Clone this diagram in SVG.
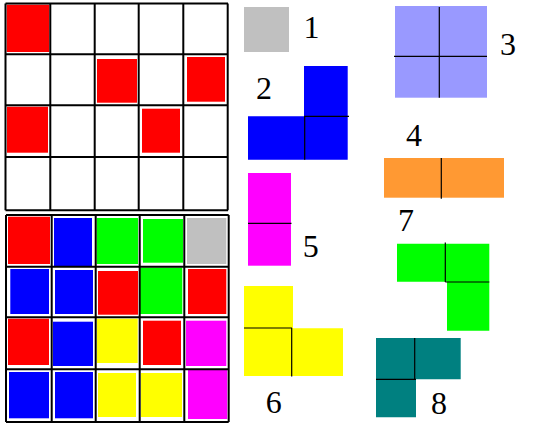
<svg xmlns="http://www.w3.org/2000/svg" width="535" height="431" viewBox="0 0 535 431">
<style>
.r{fill:#ff0000}.b{fill:#0000ff}.g{fill:#00ff00}.y{fill:#ffff00}.m{fill:#ff00ff}.gr{fill:#c0c0c0}
.grid{stroke:#000;stroke-width:2;fill:none}
.sep{stroke:#000;stroke-width:1.2;fill:none}
.lbl{font-family:"Liberation Serif","DejaVu Serif",serif;font-size:32px;fill:#000;text-anchor:middle}
</style>
<rect width="535" height="431" fill="#fff"/>
<g id="board-top">
<rect class="r" x="6.7" y="4.7" width="42.6" height="47.3"/>
<rect class="r" x="97" y="59" width="40" height="43.7"/>
<rect class="r" x="187" y="57" width="38" height="44.7"/>
<rect class="r" x="7" y="106.7" width="41" height="46"/>
<rect class="r" x="142" y="108.7" width="38" height="44"/>
<path class="grid" d="M5.5 3.5H228M5.5 54.3H228M5.5 105.3H228M5.5 157H228M5.5 210.3H228M5.5 3.5V210.3M50.3 3.5V210.3M94.7 3.5V210.3M138.7 3.5V210.3M183.3 3.5V210.3M227.7 3.5V210.3"/>
</g>
<g id="board-bottom">
<rect class="r" x="8" y="216.7" width="42" height="47.3"/>
<rect class="b" x="54" y="218" width="38" height="48"/>
<rect class="g" x="96.7" y="218" width="41.3" height="46"/>
<rect class="g" x="143" y="219" width="40" height="43.7"/>
<rect class="gr" x="187" y="218" width="39.3" height="46"/>
<rect class="b" x="10.3" y="269" width="38.7" height="45"/>
<rect class="b" x="55" y="270" width="38" height="44"/>
<rect class="r" x="98" y="271" width="40" height="43.7"/>
<rect class="g" x="140" y="267.7" width="42.3" height="46.3"/>
<rect class="r" x="188" y="269" width="38.3" height="45"/>
<rect class="r" x="8" y="318.7" width="41" height="46.3"/>
<rect class="b" x="53" y="321.7" width="40" height="44.3"/>
<rect class="y" x="97" y="318.7" width="40.7" height="44.3"/>
<rect class="r" x="143" y="320.7" width="38" height="44.3"/>
<rect class="m" x="186" y="320.7" width="40.3" height="45.3"/>
<rect class="b" x="9" y="372" width="40" height="46.3"/>
<rect class="b" x="55" y="372" width="38" height="46.3"/>
<rect class="y" x="98" y="373" width="38" height="44"/>
<rect class="y" x="141" y="373" width="41" height="44"/>
<rect class="m" x="188" y="370" width="39.3" height="49"/>
<path class="grid" d="M6 215H228.7M6 266.7H228.7M6 317.3H228.7M6 369.3H228.7M6 422H228.7M6 215V422M51.7 215V422M95.7 215V422M139.7 215V422M184.3 215V422M228.7 215V422"/>
</g>
<g id="piece-1">
<rect class="gr" x="244" y="7" width="45" height="45"/>
<text class="lbl" x="311.5" y="38">1</text>
</g>
<g id="piece-2">
<path class="b" d="M304 66H347.7V159.7H248V116.3H304Z"/>
<path class="sep" d="M304 116.3H349M304.7 116.3V159.7"/>
<text class="lbl" x="264" y="99">2</text>
</g>
<g id="piece-3">
<rect x="395" y="6" width="92" height="91.7" fill="#9999ff"/>
<path class="sep" d="M439.3 7V97.7M394 56.3H487"/>
<text class="lbl" x="508" y="54.5">3</text>
</g>
<g id="piece-4">
<rect x="384" y="158" width="120" height="39.7" fill="#ff9933"/>
<path class="sep" d="M441.3 158V198.7"/>
<text class="lbl" x="414" y="145.5">4</text>
</g>
<g id="piece-5">
<rect class="m" x="248" y="173" width="43" height="92.7"/>
<path class="sep" d="M248 223.3H291.5"/>
<text class="lbl" x="310.7" y="256.5">5</text>
</g>
<g id="piece-6">
<path class="y" d="M244 286H293V328.3H343V376H244Z"/>
<path class="sep" d="M244 328H292M291.7 328V376.5"/>
<text class="lbl" x="273.7" y="412.5">6</text>
</g>
<g id="piece-7">
<path class="g" d="M397 243.7H489.3V330.7H447V281.7H397Z"/>
<path class="sep" d="M445.3 242.5V282M445.3 282H489.3"/>
<text class="lbl" x="406" y="231">7</text>
</g>
<g id="piece-8">
<path d="M376 338H460.7V379.3H416V417.3H376Z" fill="#008080"/>
<path class="sep" d="M414.7 338V379.3M376 379.3H416"/>
<text class="lbl" x="439" y="413.5">8</text>
</g>
</svg>
